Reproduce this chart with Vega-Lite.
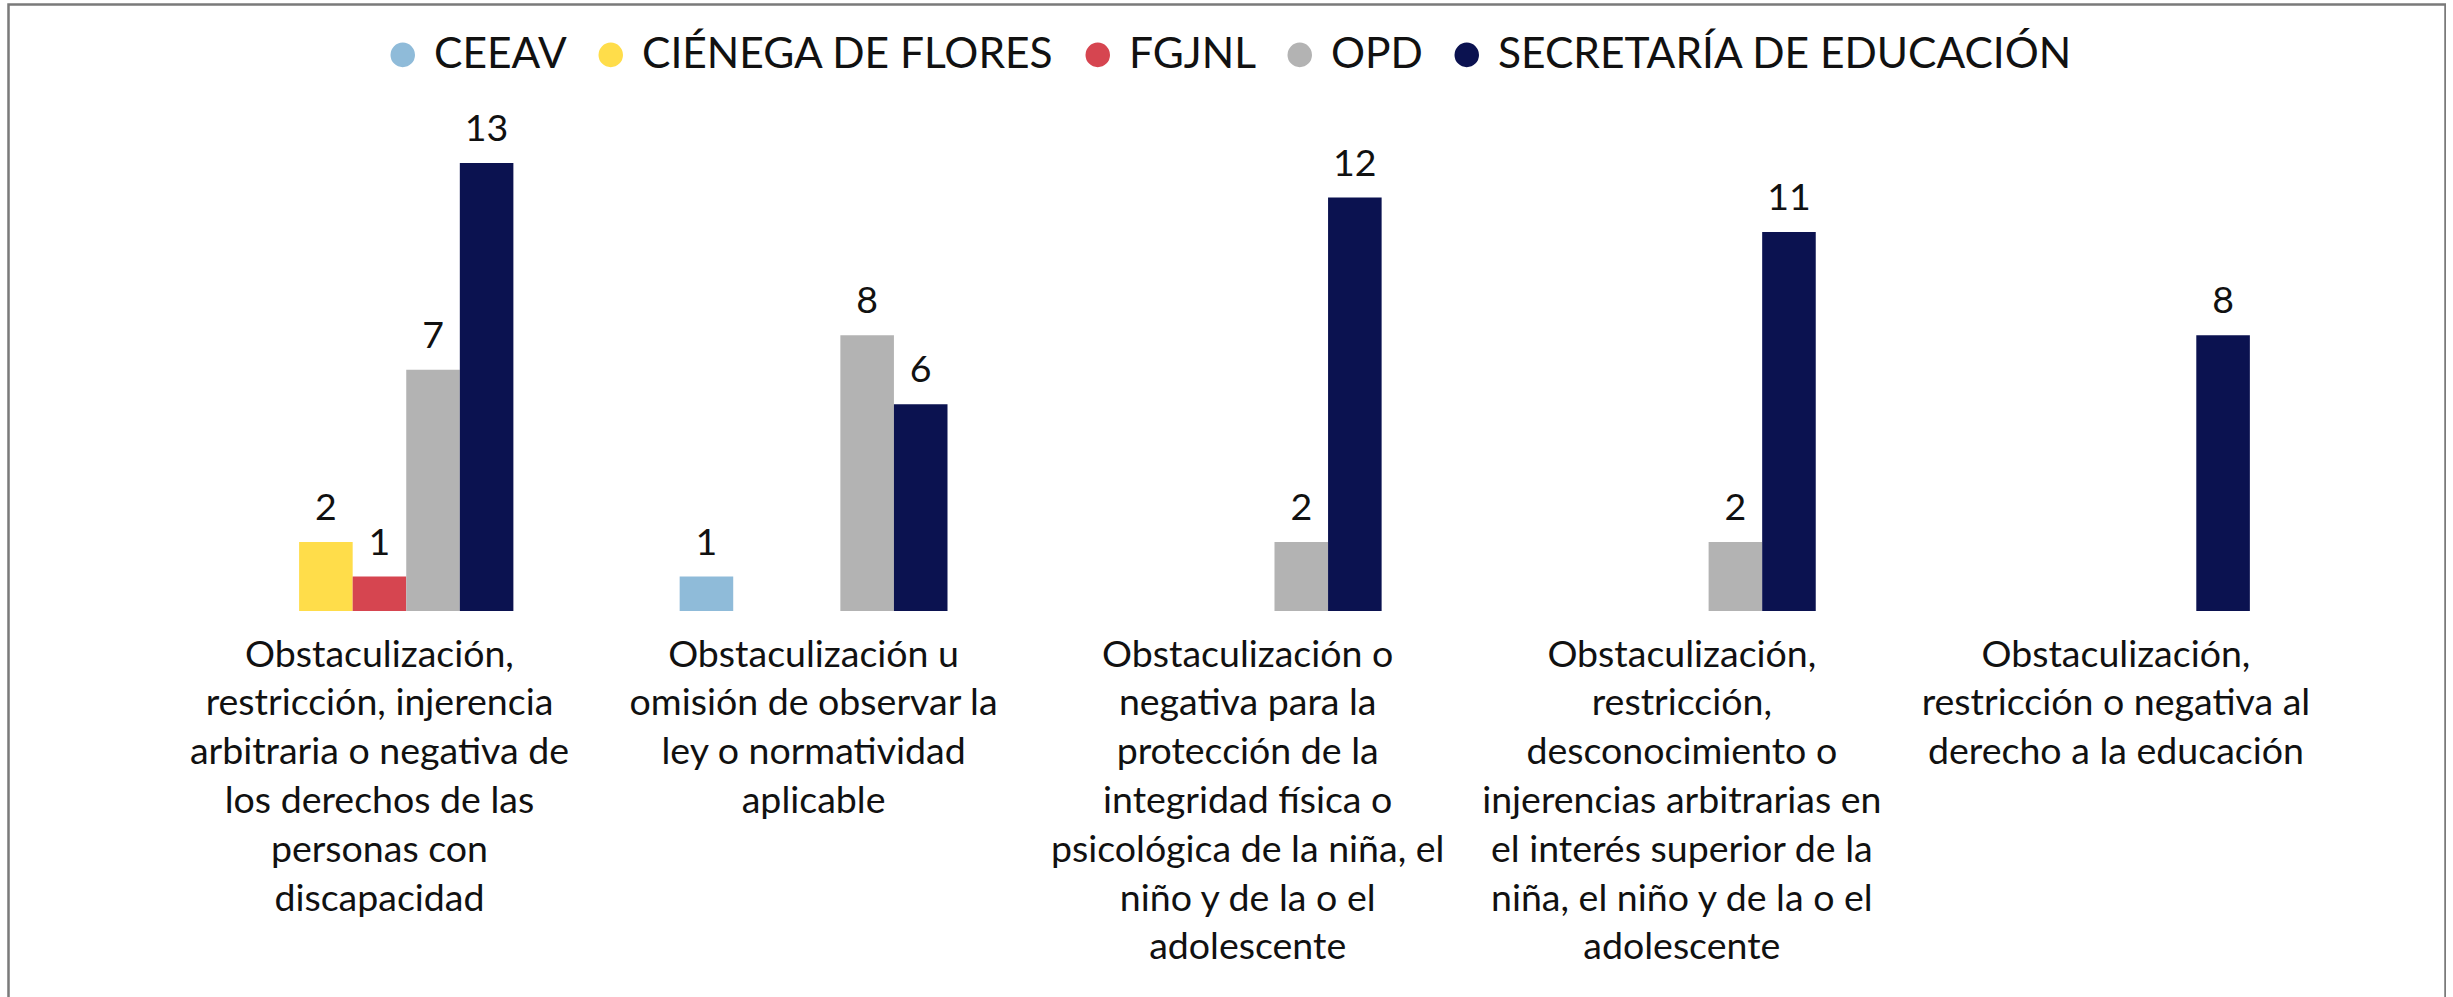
{
  "$schema": "https://vega.github.io/schema/vega-lite/v6.json",
  "autosize": {"type": "none"},
  "padding": {"left": 8.5, "top": 4.5, "right": 0, "bottom": 0},
  "width": 2437,
  "height": 1010,
  "background": "#ffffff",
  "config": {
    "view": {"stroke": "#7a7a7a", "strokeWidth": 2.5},
    "font": "Lato"
  },
  "data": {
    "values": [
      {"categoria": "Obstaculización,\nrestricción, injerencia\narbitraria o negativa de\nlos derechos de las\npersonas con\ndiscapacidad", "autoridad": "CIÉNEGA DE FLORES", "total": 2},
      {"categoria": "Obstaculización,\nrestricción, injerencia\narbitraria o negativa de\nlos derechos de las\npersonas con\ndiscapacidad", "autoridad": "FGJNL", "total": 1},
      {"categoria": "Obstaculización,\nrestricción, injerencia\narbitraria o negativa de\nlos derechos de las\npersonas con\ndiscapacidad", "autoridad": "OPD", "total": 7},
      {"categoria": "Obstaculización,\nrestricción, injerencia\narbitraria o negativa de\nlos derechos de las\npersonas con\ndiscapacidad", "autoridad": "SECRETARÍA DE EDUCACIÓN", "total": 13},
      {"categoria": "Obstaculización u\nomisión de observar la\nley o normatividad\naplicable", "autoridad": "CEEAV", "total": 1},
      {"categoria": "Obstaculización u\nomisión de observar la\nley o normatividad\naplicable", "autoridad": "OPD", "total": 8},
      {"categoria": "Obstaculización u\nomisión de observar la\nley o normatividad\naplicable", "autoridad": "SECRETARÍA DE EDUCACIÓN", "total": 6},
      {"categoria": "Obstaculización o\nnegativa para la\nprotección de la\nintegridad física o\npsicológica de la niña, el\nniño y de la o el\nadolescente", "autoridad": "OPD", "total": 2},
      {"categoria": "Obstaculización o\nnegativa para la\nprotección de la\nintegridad física o\npsicológica de la niña, el\nniño y de la o el\nadolescente", "autoridad": "SECRETARÍA DE EDUCACIÓN", "total": 12},
      {"categoria": "Obstaculización,\nrestricción,\ndesconocimiento o\ninjerencias arbitrarias en\nel interés superior de la\nniña, el niño y de la o el\nadolescente", "autoridad": "OPD", "total": 2},
      {"categoria": "Obstaculización,\nrestricción,\ndesconocimiento o\ninjerencias arbitrarias en\nel interés superior de la\nniña, el niño y de la o el\nadolescente", "autoridad": "SECRETARÍA DE EDUCACIÓN", "total": 11},
      {"categoria": "Obstaculización,\nrestricción o negativa al\nderecho a la educación", "autoridad": "SECRETARÍA DE EDUCACIÓN", "total": 8}
    ]
  },
  "encoding": {
    "x": {
      "field": "categoria",
      "type": "nominal",
      "sort": null,
      "scale": {"range": [153.9, 2324.5], "paddingInner": 0.383, "paddingOuter": 0.1915},
      "axis": {
        "title": null,
        "orient": "bottom",
        "offset": -403.5,
        "domain": false,
        "ticks": false,
        "tickSize": 0,
        "labelAngle": 0,
        "labelAlign": "center",
        "labelBaseline": "top",
        "labelPadding": 25,
        "labelFontSize": 37.5,
        "labelLineHeight": 48.8,
        "labelColor": "#111111",
        "labelFont": "Lato",
        "labelLimit": 0,
        "labelExpr": "split(datum.value, '\\n')"
      }
    },
    "xOffset": {
      "field": "autoridad",
      "type": "nominal",
      "scale": {"domain": ["CEEAV", "CIÉNEGA DE FLORES", "FGJNL", "OPD", "SECRETARÍA DE EDUCACIÓN"], "paddingInner": 0, "paddingOuter": 0}
    },
    "y": {
      "field": "total",
      "type": "quantitative",
      "scale": {"domain": [0, 14], "range": [606.5, 124.1], "nice": false},
      "axis": null
    }
  },
  "layer": [
    {
      "mark": {"type": "bar"},
      "encoding": {
        "color": {
          "field": "autoridad",
          "type": "nominal",
          "scale": {
            "domain": ["CEEAV", "CIÉNEGA DE FLORES", "FGJNL", "OPD", "SECRETARÍA DE EDUCACIÓN"],
            "range": ["#8fbbd9", "#ffdd4a", "#d64550", "#b3b3b3", "#0b1250"]
          },
          "legend": {
            "orient": "none",
            "direction": "horizontal",
            "columns": 5,
            "legendX": 373,
            "legendY": 29,
            "title": null,
            "symbolType": "circle",
            "symbolSize": 600,
            "symbolStrokeWidth": 0,
            "labelOffset": 10,
            "labelFontSize": 42.5,
            "labelFont": "Lato",
            "labelColor": "#111111",
            "labelLimit": 0,
            "columnPadding": 22,
            "padding": 0
          }
        }
      }
    },
    {
      "mark": {"type": "text", "baseline": "bottom", "dy": -14, "fontSize": 37.5, "font": "Lato", "color": "#111111"},
      "encoding": {
        "text": {"field": "total", "type": "quantitative"}
      }
    }
  ]
}
